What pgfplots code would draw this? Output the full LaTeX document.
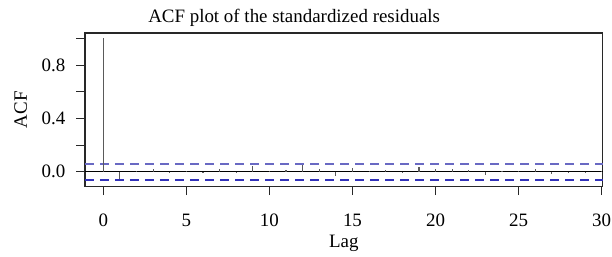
\documentclass[border=0pt]{standalone}
\usepackage{fontspec}
\setmainfont{Liberation Serif}
\usepackage{pgfplots}
\pgfplotsset{compat=1.18}
\usepackage{pgfplotstable}
\pgfplotstableread{
lag acf
0 1.0
1 -0.057
2 0.002
3 0.018
4 -0.008
5 0.005
6 -0.006
7 0.018
8 0.001
9 0.043
10 0.005
11 0.010
12 0.050
13 0.020
14 -0.030
15 0.025
16 0.002
17 0.010
18 -0.008
19 0.032
20 0.022
21 0.022
22 0.012
23 -0.025
24 0.005
25 0.008
26 0.020
27 -0.020
28 -0.010
29 -0.010
30 0.005
}\acfdata
\begin{document}
\begin{tikzpicture}[font=\fontsize{19}{22}\selectfont]
\useasboundingbox (-85bp,-70.3bp) rectangle (527bp,186.7bp);
\begin{axis}[
  at={(0,0)}, anchor=south west,
  scale only axis, width=517.7bp, height=153.7bp,
  xmin=-1.10, xmax=30.06, ymin=-0.1125, ymax=1.04,
  axis line style={draw={rgb,255:red,40;green,40;blue,40}, line width=1.3bp},
  every tick/.style={draw={rgb,255:red,40;green,40;blue,40}, line width=1bp},
  tick align=outside, xtick pos=left, ytick pos=left,
  major tick length=8.5bp,
  xtick={0,5,10,15,20,25,30},
  ytick={0,0.4,0.8}, yticklabels={0.0,0.4,0.8},
  minor ytick={0.2,0.6,1.0},
  minor tick length=8.5bp,
  /pgf/number format/assume math mode=true,
  xticklabel style={anchor=base, inner sep=0pt, yshift=-31.6bp},
  yticklabel style={anchor=east, inner sep=0pt, xshift=-11bp},
  every axis title/.style={at={(0.404,1)}, anchor=base, yshift=10bp},
  every axis x label/.style={at={(0.5,0)}, anchor=base, yshift=-60.8bp},
  every axis y label/.style={at={(0,0.5)}, xshift=-58bp, rotate=90, anchor=base},
  title={ACF plot of the standardized residuals},
  xlabel={Lag}, ylabel={ACF},
  clip=false,
]
\addplot[draw=black, line width=1bp] coordinates {(-1.10,0) (30.06,0)};
\addplot[draw={rgb,255:red,105;green,105;blue,195}, line width=1.8bp, dash pattern=on 9bp off 6bp] coordinates {(-1.10,0.06) (30.06,0.06)};
\addplot[draw={rgb,255:red,50;green,50;blue,185}, line width=1.8bp, dash pattern=on 9bp off 6bp] coordinates {(-1.10,-0.06) (30.06,-0.06)};
\addplot[draw={rgb,255:red,90;green,90;blue,90}, line width=1.1bp, ycomb, mark=none] table[x=lag, y=acf] {\acfdata};
\end{axis}
\end{tikzpicture}
\end{document}
